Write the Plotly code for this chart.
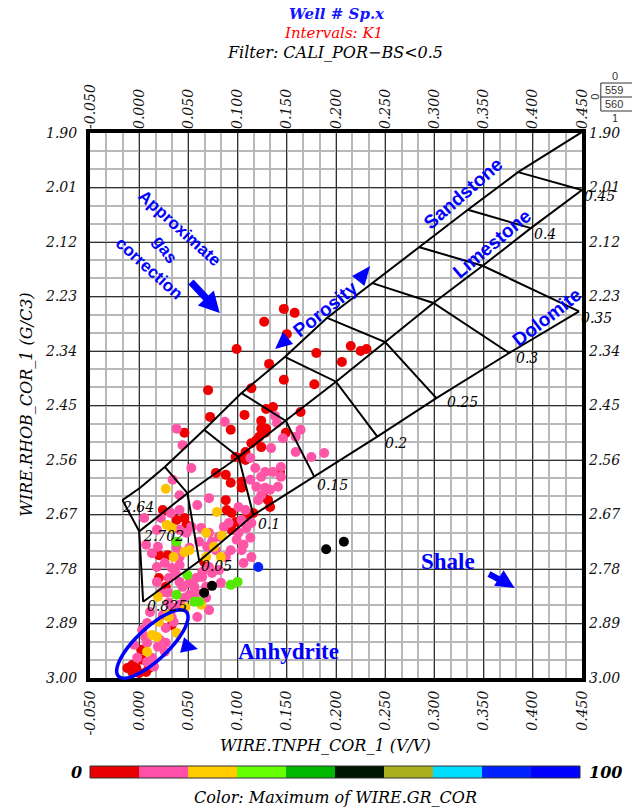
import numpy as np
import plotly.graph_objects as go

# ---------------- data ----------------
x_ticks = [-0.05, 0.00, 0.05, 0.10, 0.15, 0.20, 0.25, 0.30, 0.35, 0.40, 0.45]
y_ticks = [1.90, 2.01, 2.12, 2.23, 2.34, 2.45, 2.56, 2.67, 2.78, 2.89, 3.00]

# lithology chart lines (neutron, density)
sand_x = [-0.017, 0.001, 0.026, 0.066, 0.104, 0.148, 0.191, 0.237, 0.284, 0.334, 0.385, 0.450]
sand_y = [2.641, 2.616, 2.574, 2.499, 2.425, 2.352, 2.273, 2.203, 2.130, 2.055, 1.979, 1.898]
lime_x = [0.000, 0.049, 0.101, 0.149, 0.200, 0.250, 0.299, 0.349, 0.398, 0.450]
lime_y = [2.704, 2.627, 2.554, 2.481, 2.402, 2.322, 2.243, 2.168, 2.092, 2.015]
dolo_x = [0.004, 0.061, 0.116, 0.178, 0.242, 0.302, 0.376, 0.447]
dolo_y = [2.846, 2.764, 2.671, 2.594, 2.513, 2.435, 2.344, 2.260]
matrix_x = [-0.017, 0.000, 0.004]
matrix_y = [2.641, 2.704, 2.846]
matrix_labels = ["2.64", "2.702", "0.825"]

por_labels = ["0.05", "0.1", "0.15", "0.2", "0.25", "0.3", "0.35", "0.4", "0.45"]
por_x = [[0.026, 0.049, 0.061], [0.066, 0.101, 0.116], [0.104, 0.149, 0.178],
         [0.148, 0.200, 0.242], [0.191, 0.250, 0.302], [0.237, 0.299, 0.376],
         [0.284, 0.349, 0.447], [0.334, 0.398], [0.385, 0.450]]
por_y = [[2.574, 2.627, 2.764], [2.499, 2.554, 2.671], [2.425, 2.481, 2.594],
         [2.352, 2.402, 2.513], [2.273, 2.322, 2.435], [2.203, 2.243, 2.344],
         [2.130, 2.168, 2.260], [2.055, 2.092], [1.979, 2.015]]

# scatter points grouped by GR colour class
red_x = [0.147, 0.158, 0.127, 0.150, 0.099, 0.180, 0.215, 0.225, 0.231, 0.206, 0.132, 0.147, 0.178,
         0.114, 0.070, 0.072, 0.107, 0.129, 0.136, 0.164, 0.124, 0.093, 0.046, 0.124, 0.129, 0.149,
         0.122, 0.128, 0.114, 0.124, 0.119, 0.108, 0.098, 0.108, 0.103, 0.078, 0.088, 0.093, 0.104,
         0.104, 0.088, 0.089, 0.094, 0.109, 0.116, 0.098, 0.126, 0.131, 0.133, 0.143, 0.046, 0.024,
         0.038, 0.048, 0.029, 0.020, 0.094, 0.020, 0.027, 0.033, 0.002, 0.003, -0.007, -0.012,
         -0.003, 0.007, 0.000, -0.007, 0.010, 0.066]
red_y = [2.255, 2.263, 2.281, 2.306, 2.336, 2.344, 2.330, 2.340, 2.336, 2.362, 2.366, 2.398, 2.407,
         2.415, 2.419, 2.473, 2.469, 2.457, 2.453, 2.463, 2.481, 2.499, 2.505, 2.497, 2.497, 2.505,
         2.513, 2.505, 2.526, 2.534, 2.520, 2.544, 2.554, 2.560, 2.556, 2.586, 2.590, 2.606, 2.604,
         2.616, 2.641, 2.661, 2.667, 2.675, 2.667, 2.685, 2.635, 2.641, 2.655, 2.584, 2.677, 2.661,
         2.681, 2.691, 2.752, 2.752, 2.701, 2.798, 2.816, 2.893, 2.943, 2.963, 2.974, 2.980,
         2.980, 2.988, 2.990, 2.988, 2.980, 2.766]

pink_x = [0.038, 0.087, 0.138, 0.140, 0.164, 0.159, 0.146, 0.134, 0.159, 0.175, 0.188, 0.113, 0.118,
          0.128, 0.124, 0.113, 0.119, 0.128, 0.124, 0.133, 0.141, 0.144, 0.144, 0.136, 0.121, 0.108,
          0.101, 0.104, 0.109, 0.114, 0.101, 0.099, 0.106, 0.113, 0.091, 0.086, 0.081, 0.074, 0.071,
          0.059, 0.053, 0.041, 0.034, 0.044, 0.041, 0.032, 0.005, 0.022, 0.018, 0.041, 0.048, 0.053,
          0.063, 0.071, 0.061, 0.051, 0.038, 0.007, 0.013, 0.019, 0.041, 0.069, 0.078, 0.093, 0.104,
          0.114, 0.088, 0.106, 0.018, 0.026, 0.033, 0.041, 0.037, 0.030, 0.018, 0.041, 0.044, 0.051,
          0.058, 0.064, 0.074, 0.081, 0.071, 0.064, 0.056, 0.068, 0.083, 0.058, 0.051, 0.046, 0.068,
          0.071, 0.059, 0.029, 0.022, 0.030, 0.041, 0.034, 0.008, 0.003, 0.027, 0.035, 0.008, 0.019,
          -0.002, 0.013, 0.015, 0.027, 0.033, 0.024, 0.011, 0.021, 0.006, -0.005, 0.026, 0.008]
pink_y = [2.497, 2.483, 2.471, 2.485, 2.499, 2.513, 2.516, 2.536, 2.544, 2.554, 2.546, 2.556, 2.576,
          2.584, 2.594, 2.600, 2.614, 2.616, 2.631, 2.620, 2.614, 2.594, 2.574, 2.584, 2.641, 2.661,
          2.655, 2.681, 2.697, 2.687, 2.707, 2.721, 2.731, 2.717, 2.687, 2.695, 2.715, 2.725, 2.637,
          2.651, 2.576, 2.631, 2.600, 2.530, 2.661, 2.667, 2.677, 2.677, 2.701, 2.701, 2.707, 2.695,
          2.697, 2.707, 2.725, 2.737, 2.737, 2.731, 2.748, 2.735, 2.756, 2.735, 2.742, 2.742, 2.742,
          2.756, 2.756, 2.768, 2.776, 2.768, 2.778, 2.772, 2.788, 2.798, 2.806, 2.806, 2.816, 2.808,
          2.798, 2.796, 2.788, 2.782, 2.776, 2.786, 2.816, 2.816, 2.808, 2.828, 2.832, 2.838, 2.838,
          2.863, 2.877, 2.828, 2.828, 2.848, 2.852, 2.858, 2.889, 2.903, 2.899, 2.887, 2.929, 2.937,
          2.959, 2.959, 2.977, 2.929, 2.877, 2.873, 2.867, 2.923, 2.917, 2.933, 2.947, 2.968]

gold_x = [0.027, 0.079, 0.028, 0.033, 0.068, 0.084, 0.076, 0.051, 0.068, 0.083, 0.035, 0.046,
          0.019, 0.047, 0.063, 0.029, 0.020, 0.013, 0.018, 0.038, 0.008, 0.030]
gold_y = [2.618, 2.665, 2.691, 2.697, 2.707, 2.713, 2.735, 2.742, 2.756, 2.756, 2.756, 2.746,
          2.836, 2.858, 2.852, 2.873, 2.887, 2.913, 2.917, 2.909, 2.947, 2.877]

green_x = [0.038, 0.049, 0.093, 0.100, 0.038, 0.056, 0.061]
green_y = [2.725, 2.792, 2.812, 2.806, 2.832, 2.846, 2.846]

black_x = [0.074, 0.066, 0.190, 0.208]
black_y = [2.814, 2.828, 2.740, 2.725]

blue_x = [0.121]
blue_y = [2.776]

gr_classes = ["red", "pink", "gold", "green", "black", "blue"]
bar_colors = ["#E80000", "#FF4FA8", "#FFCC00", "#66FF00", "#00B800",
              "#001400", "#AAB020", "#00DDFF", "#0022FF", "#0000FF"]

# ---------------- geometry helpers (layout only) ----------------
W, H = 632, 810
ML, MT, PW, PH = 90, 133, 497, 545


def PX(x):
    return (x - ML) / PW


def PY(y):
    return 1 - (y - MT) / PH


SERIF = "DejaVu Serif"
NARROW = "Liberation Sans Narrow, Arial Narrow, Liberation Sans, sans-serif"
TIMES = "Liberation Serif, Times New Roman, serif"
BLUE = "#0000FF"


def txt(s, x, y, size, color="black", family=SERIF, style="italic", weight="normal",
        angle=0, xanchor="center", pad=1):
    return dict(text=s, x=PX(x), y=PY(y), xref="paper", yref="paper", showarrow=False,
                font=dict(family=family, size=size, color=color, style=style, weight=weight),
                textangle=angle, xanchor=xanchor, yanchor="middle", borderpad=pad)


def small(s, x, y, angle=0, xanchor="center"):
    return dict(text=s, x=PX(x), y=PY(y), xref="paper", yref="paper", showarrow=False,
                textangle=angle, xanchor=xanchor, yanchor="middle",
                font=dict(family="Liberation Sans", size=11, color="#333", style="normal"))


def tri(tip, base, hw, color=BLUE):
    tx, ty = tip
    bx, by = base
    dx, dy = tx - bx, ty - by
    L = (dx * dx + dy * dy) ** 0.5
    nx, ny = -dy / L, dx / L
    p1 = (bx + nx * hw, by + ny * hw)
    p2 = (bx - nx * hw, by - ny * hw)
    path = (f"M {PX(tx)},{PY(ty)} L {PX(p1[0])},{PY(p1[1])} "
            f"L {PX(p2[0])},{PY(p2[1])} Z")
    return dict(type="path", path=path, xref="paper", yref="paper",
                fillcolor=color, line=dict(width=0), layer="above")


def shaft(a, b, w, color=BLUE):
    return dict(type="line", x0=PX(a[0]), y0=PY(a[1]), x1=PX(b[0]), y1=PY(b[1]),
                xref="paper", yref="paper", line=dict(color=color, width=w), layer="above")


fig = go.Figure()

# scatter points
groups = [(red_x, red_y, "#EE0000"), (pink_x, pink_y, "#FF55A6"), (gold_x, gold_y, "#FFC400"),
          (green_x, green_y, "#55E800"), (black_x, black_y, "#000000"), (blue_x, blue_y, "#0022FF")]
for (gx, gy, col), name in zip(groups, gr_classes):
    fig.add_trace(go.Scatter(x=gx, y=gy, mode="markers", name=name, showlegend=False,
                             marker=dict(color=col, size=10, line=dict(width=0)),
                             hoverinfo="skip"))

# lithology lines
line_style = dict(color="black", width=2)
for lx, ly in [(sand_x, sand_y), (lime_x, lime_y), (dolo_x, dolo_y), (matrix_x, matrix_y)]:
    fig.add_trace(go.Scatter(x=lx, y=ly, mode="lines", line=line_style,
                             showlegend=False, hoverinfo="skip"))
for lx, ly in zip(por_x, por_y):
    fig.add_trace(go.Scatter(x=lx, y=ly, mode="lines", line=line_style,
                             showlegend=False, hoverinfo="skip"))

# dummy trace to activate the mirrored axes
fig.add_trace(go.Scatter(x=[x_ticks[0], x_ticks[-1]], y=[y_ticks[0], y_ticks[-1]],
                         xaxis="x2", yaxis="y2", mode="markers", marker=dict(opacity=0),
                         showlegend=False, hoverinfo="skip"))

tickfont = dict(family=SERIF, size=14, color="#111", style="italic")
xt_text = [f"{v:.3f}" for v in x_ticks]
yt_text = [f"{v:.2f}" for v in y_ticks]

fig.update_layout(
    width=W, height=H, margin=dict(l=ML, r=W - ML - PW, t=MT, b=H - MT - PH),
    paper_bgcolor="white", plot_bgcolor="white",
    font=dict(family=SERIF, style="italic"),
    xaxis=dict(range=[-0.05, 0.45], tickvals=x_ticks, ticktext=xt_text, tickangle=-90,
               tickfont=tickfont, showline=True, linewidth=4, linecolor="black", mirror=True,
               showgrid=True, gridcolor="#303030", gridwidth=1, zeroline=False,
               ticklabelstandoff=3,
               minor=dict(tick0=-0.05, dtick=0.05 / 3, showgrid=True,
                          gridcolor="#b8b8b8", gridwidth=1.6)),
    yaxis=dict(range=[3.0, 1.9], tickvals=y_ticks, ticktext=yt_text,
               tickfont=tickfont, showline=True, linewidth=4, linecolor="black", mirror=True,
               showgrid=True, gridcolor="#303030", gridwidth=1, zeroline=False,
               ticklabelstandoff=6,
               minor=dict(tick0=1.9, dtick=0.11 / 3, showgrid=True,
                          gridcolor="#b8b8b8", gridwidth=1.6)),
    xaxis2=dict(range=[-0.05, 0.45], overlaying="x", side="top", tickvals=x_ticks,
                ticktext=xt_text, tickangle=-90, tickfont=tickfont, showgrid=False,
                zeroline=False, showline=False, ticklabelstandoff=3),
    yaxis2=dict(range=[3.0, 1.9], overlaying="y", side="right", tickvals=y_ticks,
                ticktext=yt_text, tickfont=tickfont, showgrid=False, zeroline=False,
                showline=False, ticklabelstandoff=6),
)

ann = []
# titles
ann.append(txt("Well # Sp.x", 340, 14, 15, color="#1414FF", weight="bold", pad=0))
ann.append(txt("Intervals: K1", 336, 33, 15, color="#FF0000", pad=0))
ann.append(txt("Filter: CALI_POR−BS&lt;0.5", 337, 52, 16, color="black", pad=0))
# axis titles
ann.append(txt("WIRE.TNPH_COR_1 (V/V)", 328, 745, 16))
ann.append(txt("WIRE.RHOB_COR_1 (G/C3)", 25, 405, 16, angle=-90))
# colour bar labels
ann.append(txt("0", 76, 772, 16, weight="bold"))
ann.append(txt("100", 611, 772, 16, weight="bold"))
ann.append(txt("Color: Maximum of WIRE.GR_COR", 338, 797, 16))

# porosity labels
por_pos = [(218, 566), (271, 524), (335, 485), (399, 443), (466, 402), (531, 358),
           (602, 318), (550, 234), (605, 196)]
for lab, (px_, py_) in zip(por_labels, por_pos):
    ann.append(txt(lab, px_, py_, 14))
mat_pos = [(138, 507), (164, 536), (168, 606)]
for lab, (px_, py_) in zip(matrix_labels, mat_pos):
    ann.append(txt(lab, px_, py_, 14))

# blue annotation texts
ann.append(txt("Approximate", 181, 228, 17, color=BLUE, family=NARROW, style="normal",
               weight="bold", angle=42))
ann.append(txt("gas", 166, 249, 17, color=BLUE, family=NARROW, style="normal",
               weight="bold", angle=55))
ann.append(txt("correction", 150, 268, 17, color=BLUE, family=NARROW, style="normal",
               weight="bold", angle=42))
ann.append(txt("Porosity", 327, 309, 19, color=BLUE, family=NARROW, style="normal",
               weight="bold", angle=-39))
ann.append(txt("Sandstone", 467, 194, 19, color=BLUE, family=NARROW, style="normal",
               weight="bold", angle=-41))
ann.append(txt("Limestone", 496, 243, 19, color=BLUE, family=NARROW, style="normal",
               weight="bold", angle=-40))
ann.append(txt("Dolomite", 551, 317, 19, color=BLUE, family=NARROW, style="normal",
               weight="bold", angle=-38))
ann.append(txt("Shale", 452, 561, 23, color=BLUE, family=TIMES, style="normal", weight="bold"))
ann.append(txt("Anhydrite", 291, 651, 23, color=BLUE, family=TIMES, style="normal",
               weight="bold"))

# top-right small box labels
ann.append(small("0", 620, 76))
ann.append(small("559", 630, 90, xanchor="right"))
ann.append(small("560", 630, 104, xanchor="right"))
ann.append(small("1", 620, 118))
ann.append(small("0", 600, 97, angle=-90))

fig.update_layout(annotations=ann)

shapes = []
# colour bar
x0, x1 = 90, 585
seg = (x1 - x0) / len(bar_colors)
for i, c in enumerate(bar_colors):
    shapes.append(dict(type="rect", xref="paper", yref="paper",
                       x0=PX(x0 + i * seg), x1=PX(x0 + (i + 1) * seg), y0=PY(778), y1=PY(766),
                       fillcolor=c, line=dict(width=0)))
shapes.append(dict(type="rect", xref="paper", yref="paper", x0=PX(x0), x1=PX(x1),
                   y0=PY(778), y1=PY(766), line=dict(color="#333", width=1)))
# top-right box
shapes.append(dict(type="rect", xref="paper", yref="paper", x0=PX(606), x1=PX(640),
                   y0=PY(111), y1=PY(83), line=dict(color="#333", width=1)))
shapes.append(dict(type="line", xref="paper", yref="paper", x0=PX(606), x1=PX(640),
                   y0=PY(97), y1=PY(97), line=dict(color="#333", width=1)))

# arrows
shapes.append(shaft((192, 282), (210, 301), 7))
shapes.append(tri((221, 313), (207, 298), 11))
shapes.append(tri((373, 266), (361, 281), 8))
shapes.append(tri((277, 349), (290, 338), 8))
shapes.append(shaft((493, 574), (508, 582), 6))
shapes.append(tri((519, 588), (503, 578), 9))
shapes.append(tri((199, 649), (183, 645), 8))

# anhydrite ellipse
cx, cy, a, b, th = 153, 644, 47, 16, np.deg2rad(43)
t = np.linspace(0, 2 * np.pi, 73)
ex = cx + a * np.cos(t) * np.cos(th) + b * np.sin(t) * np.sin(th)
ey = cy - a * np.cos(t) * np.sin(th) + b * np.sin(t) * np.cos(th)
path = "M " + " L ".join(f"{PX(u)},{PY(v)}" for u, v in zip(ex, ey)) + " Z"
shapes.append(dict(type="path", path=path, xref="paper", yref="paper",
                   line=dict(color=BLUE, width=3.5), layer="above"))

fig.update_layout(shapes=shapes)

fig.write_html("out.html")
